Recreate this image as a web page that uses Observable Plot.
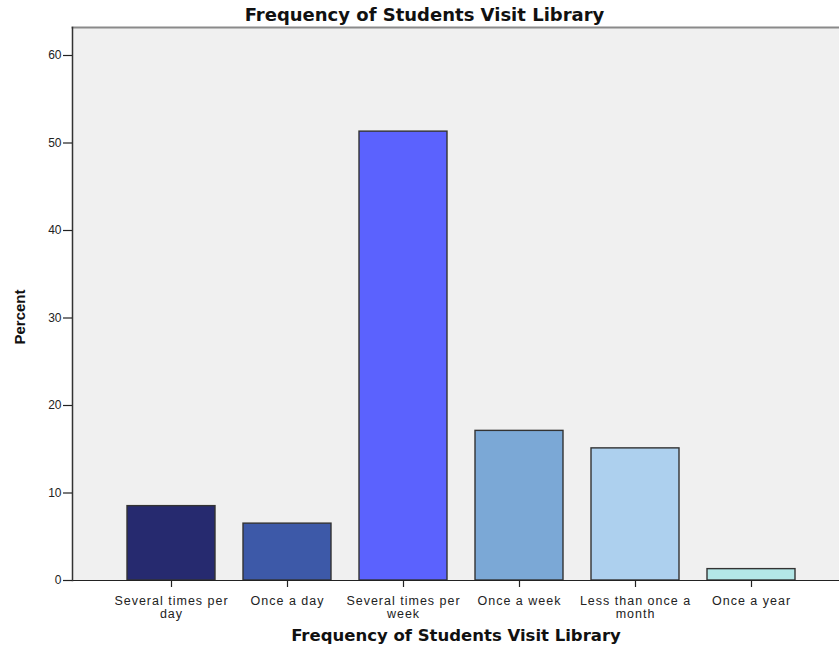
<!DOCTYPE html>
<html>
<head>
<meta charset="utf-8">
<script src="https://cdn.jsdelivr.net/npm/d3@7"></script>
<script src="https://cdn.jsdelivr.net/npm/@observablehq/plot@0.6"></script>
<style>
  html, body { margin: 0; padding: 0; background: #ffffff; }
  #chart { width: 839px; }
  .title {
    height: 27px;
    line-height: 30px;
    text-align: center;
    font-family: "DejaVu Sans", "Open Sans", sans-serif;
    font-weight: 700;
    font-size: 18px;
    color: #111;
    white-space: nowrap;
    padding-left: 10px;
  }
  svg { display: block; }
  svg g[aria-label="x-axis tick label"] text { letter-spacing: 1px; }
</style>
</head>
<body>
<div id="chart">
  <div class="title">Frequency of Students Visit Library</div>
</div>
<script>
// Survey responses: how often students visit the library (percent of respondents)
const categories = [
  "Several times per day",
  "Once a day",
  "Several times per week",
  "Once a week",
  "Less than once a month",
  "Once a year"
];
const percents = [8.5, 6.5, 51.3, 17.1, 15.1, 1.3];
const tickLabels = [
  "Several times per\nday",
  "Once a day",
  "Several times per\nweek",
  "Once a week",
  "Less than once a\nmonth",
  "Once a year"
];
const yTicks = [0, 10, 20, 30, 40, 50, 60];
const barColors = ["#262a6f", "#3d59a8", "#5b62fe", "#7ba8d6", "#add0ee", "#b3e7e7"];

const axisTitle = "Frequency of Students Visit Library";
const yTitle = "Percent";

const rows = categories.map((c, i) => ({category: c, percent: percents[i]}));

const sans = "'Liberation Sans', Arial, sans-serif";
const heading = "'DejaVu Sans', 'Open Sans', sans-serif";

const chart = Plot.plot({
  width: 839,
  height: 634,
  marginTop: 0,
  marginLeft: 72,
  marginRight: 0,
  marginBottom: 81,
  style: {fontFamily: sans, background: "#ffffff", overflow: "visible"},
  x: {domain: categories, paddingInner: 0.245, paddingOuter: 0, insetLeft: 53, insetRight: 43},
  y: {domain: [0, 63.2]},
  color: {domain: categories, range: barColors},
  marks: [
    Plot.frame({fill: "#f0f0f0", stroke: null}),
    Plot.frame({anchor: "top", stroke: "#8a8a8a", strokeWidth: 2}),
    Plot.barY(rows, {
      x: "category",
      y: "percent",
      fill: "category",
      stroke: "#333333",
      strokeWidth: 1.4
    }),
    Plot.ruleY([0], {stroke: "#222222", strokeWidth: 1.2}),
    Plot.frame({anchor: "left", stroke: "#333333", strokeWidth: 1.5}),
    Plot.axisY({
      ticks: yTicks,
      tickSize: 9,
      tickPadding: 2,
      fontSize: 12,
      stroke: "#222",
      strokeWidth: 1.2,
      fill: "#222",
      label: null
    }),
    Plot.axisX({
      tickSize: 7,
      tickPadding: 9,
      fontSize: 12.5,
      lineHeight: 1.0,
      stroke: "#222",
      strokeWidth: 1.2,
      fill: "#222",
      tickFormat: (d) => tickLabels[categories.indexOf(d)],
      label: null
    }),
    Plot.text([yTitle], {
      frameAnchor: "left",
      textAnchor: "middle",
      dx: -52,
      dy: 13,
      rotate: -90,
      fontSize: 15,
      fontWeight: "bold",
      fill: "#111",
      fontFamily: sans
    }),
    Plot.text([axisTitle], {
      frameAnchor: "bottom",
      dy: 60,
      fontSize: 16.5,
      fontWeight: "bold",
      fill: "#111",
      fontFamily: heading
    })
  ]
});

document.getElementById("chart").appendChild(chart);
</script>
</body>
</html>
